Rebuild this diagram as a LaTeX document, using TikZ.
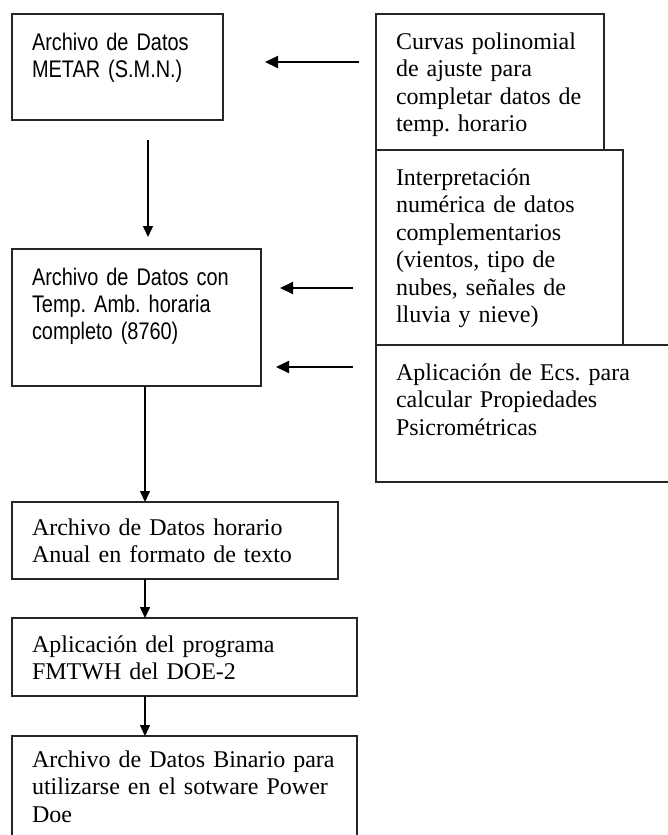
\documentclass[tikz,border=0pt]{standalone}
\usepackage{fontspec}
\setmainfont{Liberation Serif}
\newfontfamily\narrowsans[FakeStretch=0.83]{Liberation Sans}
\usetikzlibrary{arrows.meta}
\frenchspacing
\tikzset{
  box/.style={draw=black!85,line width=1.6pt,anchor=north west,inner xsep=20pt,inner ysep=0pt,outer sep=0pt,align=left},
  sbox/.style={box,font=\narrowsans\fontsize{24}{27}\selectfont},
  rbox/.style={box,font=\fontsize{24}{27.5}\selectfont},
  arr/.style={-{Triangle[length=11pt,width=10pt]},line width=1.5pt},
  arrh/.style={-{Triangle[length=13pt,width=12pt]},line width=2pt},
}

\begin{document}
\begin{tikzpicture}[x=1pt,y=-1pt]
  \useasboundingbox (0,0) rectangle (668,835);
  % main column
  \node[sbox,text width=171pt,text height=36pt,text depth=70pt] (metar) at (12,14) {Archivo de Datos\\METAR (S.M.N.)};
  \node[sbox,text width=209pt,text height=36pt,text depth=101pt] (horaria) at (12,249) {Archivo de Datos con\\Temp. Amb. horaria\\completo (8760)};
  \node[rbox,text width=286pt,text height=33pt,text depth=44pt] (texto) at (12,502) {Archivo de Datos horario\\Anual en formato de texto};
  \node[rbox,text width=305pt,text height=34pt,text depth=44pt] (prog) at (12,618) {Aplicación del programa\\FMTWH del DOE-2};
  \node[rbox,text width=305pt,text height=31pt,text depth=73pt] (binario) at (12,736) {Archivo de Datos Binario para\\utilizarse en el sotware Power\\Doe};
  % side column
  \node[rbox,text width=188pt,text height=35pt,text depth=101pt] (curvas) at (376,14) {Curvas polinomial\\de ajuste para\\completar datos de\\temp. horario};
  \node[rbox,text width=207pt,text height=35pt,text depth=160pt] (interp) at (376,150) {Interpretación\\numérica de datos\\complementarios\\(vientos, tipo de\\nubes, señales de\\lluvia y nieve)};
  \node[rbox,text width=256pt,text height=35pt,text depth=102pt] (psicro) at (376,345) {Aplicación de Ecs. para\\calcular Propiedades\\Psicrométricas};
  % down arrows
  \draw[arr] ([xshift=30.5pt,yshift=-20pt]metar.south) -- ([xshift=11.5pt,yshift=12pt]horaria.north);
  \draw[arr] ([xshift=8.5pt]horaria.south) -- ([xshift=8.5pt]horaria.south |- texto.north);
  \draw[arr] ([xshift=-30pt]texto.south) -- ([xshift=-30pt]texto.south |- prog.north);
  \draw[arr] ([xshift=-39.5pt]prog.south) -- ([xshift=-39.5pt]prog.south |- binario.north);
  % side inputs
  \draw[arrh] ([xshift=-17pt,yshift=20pt]curvas.west) -- ([xshift=42pt,yshift=5pt]metar.east);
  \draw[arrh] ([xshift=-23pt,yshift=-40.5pt]interp.west) -- ([xshift=19pt,yshift=29.5pt]horaria.east);
  \draw[arrh] ([xshift=-23pt,yshift=46.5pt]psicro.west) -- ([xshift=15pt,yshift=-49.5pt]horaria.east);
\end{tikzpicture}
\end{document}
